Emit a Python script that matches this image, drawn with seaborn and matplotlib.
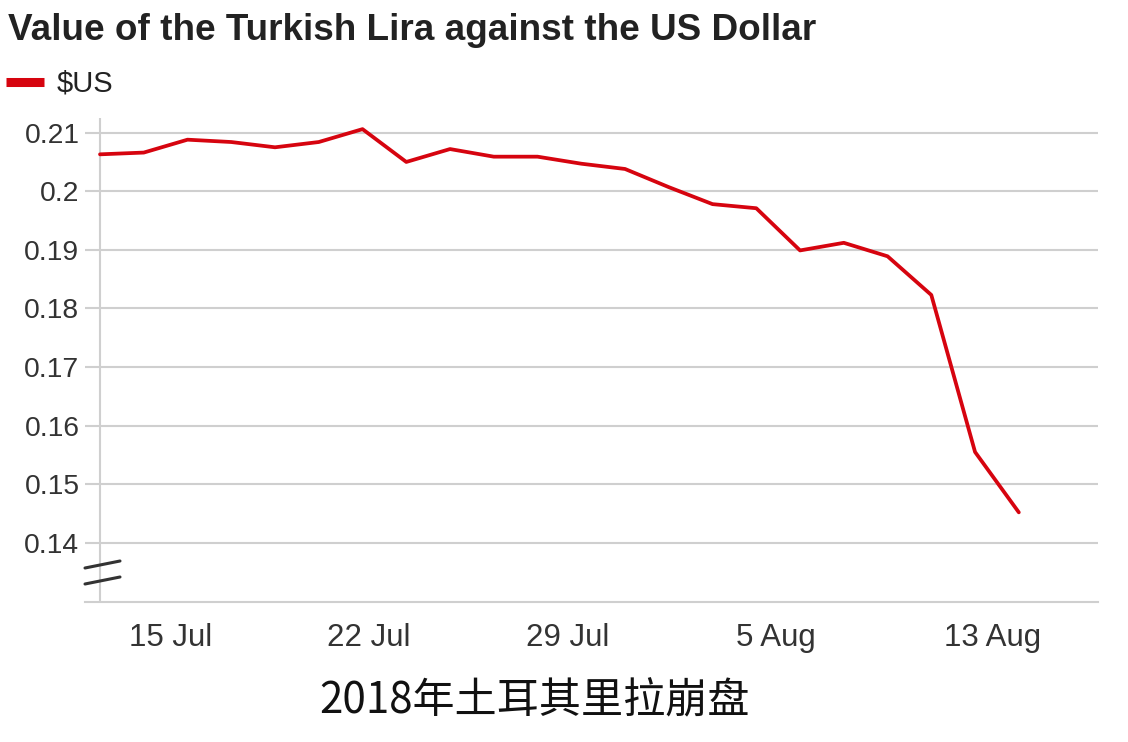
import matplotlib
matplotlib.use("Agg")
import matplotlib.pyplot as plt
import seaborn as sns
import pandas as pd
from matplotlib.lines import Line2D

# ---- data ----
title = "Value of the Turkish Lira against the US Dollar"
series_name = "$US"
caption = "2018年土耳其里拉崩盘"
usd_values = [0.2063, 0.2066, 0.2088, 0.2084, 0.2075, 0.2084, 0.2106, 0.2050,
              0.2072, 0.2059, 0.2059, 0.2047, 0.2038, 0.2007, 0.1978, 0.1971,
              0.1899, 0.1912, 0.1889, 0.1823, 0.1555, 0.1452]
x_tick_labels = ["15 Jul", "22 Jul", "29 Jul", "5 Aug", "13 Aug"]
x_tick_pos = [1.62, 6.15, 10.69, 15.45, 20.41]
y_ticks = [0.14, 0.15, 0.16, 0.17, 0.18, 0.19, 0.20, 0.21]
y_tick_labels = ["0.14", "0.15", "0.16", "0.17", "0.18", "0.19", "0.2", "0.21"]

df = pd.DataFrame({"idx": list(range(len(usd_values))), "value": usd_values})

sns.set_theme(style="white")
plt.rcParams["font.family"] = ["Liberation Sans", "DejaVu Sans"]

RED = "#d6040f"
GRID = "#cfcfcf"
TXT = "#333333"

W, H = 1128, 742
fig = plt.figure(figsize=(W / 100, H / 100), dpi=100)
ax = fig.add_axes([85 / W, 1 - 602 / H, (1098 - 85) / W, (602 - 118) / H])

for yt in y_ticks:
    ax.axhline(yt, color=GRID, lw=1.5, zorder=0)
ax.axvline(0, color=GRID, lw=1.5, zorder=0)

sns.lineplot(data=df, x="idx", y="value", ax=ax, color=RED, lw=2.7, zorder=3)

ax.set_xlim(-0.343, 22.81)
ax.set_ylim(0.1299, 0.2125)
ax.set_xlabel("")
ax.set_ylabel("")

ax.set_xticks(x_tick_pos)
ax.set_xticklabels(x_tick_labels)
ax.set_yticks(y_ticks)
ax.set_yticklabels(y_tick_labels)
ax.tick_params(axis="x", length=0, pad=15, labelsize=22.5, labelcolor=TXT)
ax.tick_params(axis="y", length=0, pad=4, labelsize=20.3, labelcolor=TXT)

for s in ["top", "right", "left"]:
    ax.spines[s].set_visible(False)
ax.spines["bottom"].set_color(GRID)
ax.spines["bottom"].set_linewidth(1.5)

# axis break marks
fig.add_artist(Line2D([85 / W, 120 / W], [1 - 568 / H, 1 - 561 / H],
                      color="#333333", lw=2.2))
fig.add_artist(Line2D([85 / W, 120 / W], [1 - 584 / H, 1 - 577 / H],
                      color="#333333", lw=2.2))

# title
fig.text(8 / W, 1 - 40 / H, title, fontsize=26.6, fontweight="bold",
         color="#222222", ha="left", va="baseline")

# legend
handle = Line2D([], [], color=RED, lw=6.5, solid_capstyle="butt")
fig.legend(handles=[handle], labels=[series_name], loc="center left",
           bbox_to_anchor=(6 / W, 1 - 84 / H), frameon=False, borderpad=0,
           borderaxespad=0, handlelength=1.3, handletextpad=0.42,
           prop={"size": 21}, labelcolor="#222222")

# caption
fig.text(535 / W, 1 - 701 / H, caption, fontsize=30.3, color="#111111",
         ha="center", va="center",
         family=["Noto Sans CJK SC", "DejaVu Sans"])

fig.savefig("out.png", dpi=100)
